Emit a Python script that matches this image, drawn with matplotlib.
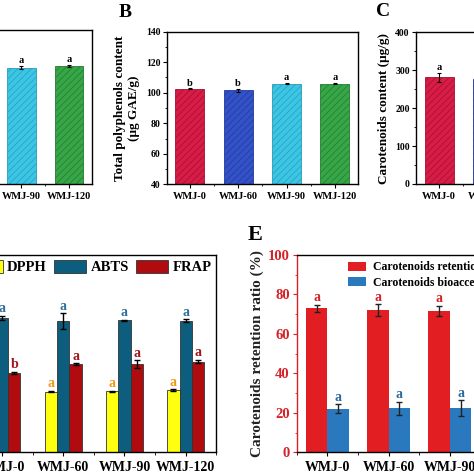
import numpy as np
import matplotlib
matplotlib.use("Agg")
from matplotlib import pyplot as plt
from matplotlib.ticker import FixedLocator, MultipleLocator
from matplotlib.patches import Patch

plt.rcParams['font.family'] = 'Liberation Serif'
plt.rcParams['font.weight'] = 'bold'
plt.rcParams['axes.labelweight'] = 'bold'
plt.rcParams['hatch.linewidth'] = 0.5
plt.rcParams['axes.linewidth'] = 1.0

samples = ['WMJ-0', 'WMJ-60', 'WMJ-90', 'WMJ-120']

# panel A (only the right part is visible)
a_vals = [29.6, 29.9, 30.2, 30.6]
a_err = [0.4, 0.4, 0.4, 0.3]
a_letters = ['a', 'a', 'a', 'a']

# panel B total polyphenols
b_vals = [102.6, 101.5, 105.9, 105.9]
b_err = [0.3, 1.0, 0.5, 0.5]
b_letters = ['b', 'b', 'a', 'a']

# panel C carotenoids
c_vals = [282, 276, 279, 281]
c_err = [12, 10, 10, 10]
c_letters = ['a', 'a', 'a', 'a']

# panel D antioxidant activity
dpph = [31.0, 30.7, 31.0, 31.4]
dpph_err = [0.3, 0.3, 0.3, 0.5]
abts = [68.2, 66.5, 67.0, 66.8]
abts_err = [1.0, 4.0, 0.3, 0.6]
frap = [40.3, 44.6, 44.6, 46.0]
frap_err = [0.5, 0.5, 2.0, 0.8]
frap_letters = ['b', 'a', 'a', 'a']

# panel E retention / bioaccessibility
e_samples = ['WMJ-0', 'WMJ-60', 'WMJ-90', 'WMJ-120']
retention = [72.9, 72.0, 71.7, 72.0]
retention_err = [1.7, 3.0, 2.7, 2.5]
bioacc = [22.0, 22.3, 22.3, 22.5]
bioacc_err = [2.3, 3.3, 4.0, 3.0]

top_colors = ['#d81c46', '#3452c8', '#3cc6e6', '#36a646']
top_edges = ['#a01030', '#22389a', '#2a9ab8', '#237a30']

W = 474.0
fig = plt.figure(figsize=(4.74, 4.74), dpi=100)


def box(left, top, width, height):
    return [left / W, 1 - (top + height) / W, width / W, height / W]


def style_top(ax, ymin, ymax, ystep):
    x = np.arange(4)
    ax.set_xlim(-0.48, 3.48)
    ax.set_ylim(ymin, ymax)
    ax.set_xticks(x)
    ax.set_xticklabels(samples, fontsize=7.5)
    ax.xaxis.set_minor_locator(FixedLocator(np.arange(-0.5, 4, 1)))
    ax.yaxis.set_major_locator(MultipleLocator(ystep))
    ax.yaxis.set_minor_locator(MultipleLocator(ystep / 2))
    ax.tick_params(axis='x', which='major', direction='out', length=3, width=0.8, labelsize=7.5, pad=2.5)
    ax.tick_params(axis='y', which='major', direction='out', length=3, width=0.8, labelsize=7, pad=1.5)
    ax.tick_params(axis='both', which='minor', direction='out', length=1.5, width=0.6)


def top_bars(ax, vals, err, letters):
    x = np.arange(4)
    ax.bar(x, vals, width=0.6, color=top_colors, edgecolor=top_edges, linewidth=0.6, hatch='/////')
    ax.errorbar(x, vals, yerr=err, fmt='none', ecolor='black', elinewidth=0.8, capsize=1.5, capthick=0.8)
    for xi, v, e, t in zip(x, vals, err, letters):
        ax.annotate(t, (xi, v + e), xytext=(0, 0.5), textcoords='offset points',
                    ha='center', va='bottom', fontsize=7.5, fontweight='bold')


# A
axA = fig.add_axes(box(92 - 3.96 * 47.7, 30, 3.96 * 47.7, 154))
top_bars(axA, a_vals, a_err, a_letters)
style_top(axA, 0, 40, 10)

# B
axB = fig.add_axes(box(166.7, 31.7, 191.3, 152.6))
top_bars(axB, b_vals, b_err, b_letters)
style_top(axB, 40, 140, 20)
axB.set_ylabel('Total polyphenols content\n(\u03bcg GAE/g)', fontsize=9.5, labelpad=4, linespacing=1.25)

# C
axC = fig.add_axes(box(416, 32.3, 191, 151.7))
top_bars(axC, c_vals, c_err, c_letters)
style_top(axC, 0, 400, 100)
axC.set_ylabel('Carotenoids content (\u03bcg/g)', fontsize=9.5, labelpad=4)

# D
axD = fig.add_axes(box(2.1 - 0.5 * 61.2, 255, 4 * 61.2, 197.3))
x = np.arange(4)
wd = 0.2
d_series = [(dpph, dpph_err, '#ffff10', '#ee9a1a', 'DPPH', -wd),
            (abts, abts_err, '#0d5e7e', '#2f6f9c', 'ABTS', 0),
            (frap, frap_err, '#b00c10', '#a0141a', 'FRAP', wd)]
for vals, err, col, lcol, name, off in d_series:
    axD.bar(x + off, vals, width=wd, color=col, edgecolor='#333333', linewidth=0.6, label=name)
    axD.errorbar(x + off, vals, yerr=err, fmt='none', ecolor='black', elinewidth=1, capsize=2.5, capthick=1)
    lets = frap_letters if name == 'FRAP' else ['a'] * 4
    for xi, v, e, t in zip(x + off, vals, err, lets):
        axD.annotate(t, (xi, v + e), xytext=(0, 0.5), textcoords='offset points',
                     ha='center', va='bottom', fontsize=10, fontweight='bold', color=lcol)
axD.set_xlim(-0.5, 3.5)
axD.set_ylim(0, 100)
axD.set_xticks(x)
axD.set_xticklabels(samples, fontsize=10)
axD.xaxis.set_minor_locator(FixedLocator(np.arange(-0.5, 4, 1)))
axD.tick_params(axis='x', which='major', direction='out', length=3, width=0.8, labelsize=10, pad=3)
axD.tick_params(axis='x', which='minor', direction='out', length=2, width=0.6)
axD.set_yticks([])
axD.legend(handles=[Patch(facecolor=c, edgecolor='#333333', linewidth=0.6) for _, _, c, _, _, _ in d_series],
           labels=['DPPH', 'ABTS', 'FRAP'], ncol=3, loc='upper center', bbox_to_anchor=(0.488, 0.975),
           frameon=False, fontsize=10.5, handlelength=2.2, handleheight=0.95, handletextpad=0.3,
           columnspacing=0.5, borderpad=0, borderaxespad=0)

# E
axE = fig.add_axes(box(296.7, 255, 4 * 61.3, 197.3))
we = 0.35
axE.bar(x - we / 2, retention, width=we, color='#e21e22', label='Carotenoids retention ratio')
axE.bar(x + we / 2, bioacc, width=we, color='#2a78be', label='Carotenoids bioaccessibility')
axE.errorbar(x - we / 2, retention, yerr=retention_err, fmt='none', ecolor='#222222', elinewidth=1, capsize=2.5, capthick=1)
axE.errorbar(x + we / 2, bioacc, yerr=bioacc_err, fmt='none', ecolor='#222222', elinewidth=1, capsize=2.5, capthick=1)
for xi, v, e in zip(x - we / 2, retention, retention_err):
    axE.annotate('a', (xi, v + e), xytext=(0, 0.5), textcoords='offset points',
                 ha='center', va='bottom', fontsize=10, fontweight='bold', color='#d42228')
for xi, v, e in zip(x + we / 2, bioacc, bioacc_err):
    axE.annotate('a', (xi, v + e), xytext=(0, 0.5), textcoords='offset points',
                 ha='center', va='bottom', fontsize=10, fontweight='bold', color='#2c6a9e')
axE.set_xlim(-0.5, 3.5)
axE.set_ylim(0, 100)
axE.set_xticks(x)
axE.set_xticklabels(e_samples, fontsize=10)
axE.xaxis.set_minor_locator(FixedLocator(np.arange(-0.5, 4, 1)))
axE.yaxis.set_major_locator(MultipleLocator(20))
axE.yaxis.set_minor_locator(MultipleLocator(10))
axE.tick_params(axis='x', which='major', direction='out', length=3, width=0.8, labelsize=10, pad=3)
axE.tick_params(axis='x', which='minor', direction='out', length=2, width=0.6)
axE.tick_params(axis='y', which='major', direction='out', length=3, width=0.8, labelsize=10.5, pad=2,
                colors='#d42228')
axE.tick_params(axis='y', which='minor', direction='out', length=1.5, width=0.6, colors='#d42228')
axE.spines['left'].set_color('#d42228')
axE.set_ylabel('Carotenoids retention ratio (%)', fontsize=11, labelpad=3, color='#222222')
axE.legend(loc='upper left', bbox_to_anchor=(0.21, 0.968), frameon=False, fontsize=8.5,
           handlelength=1.5, handleheight=0.75, handletextpad=0.6, labelspacing=0.3,
           borderpad=0, borderaxespad=0)

for ax in [axA, axB, axC, axD, axE]:
    for lab in ax.get_xticklabels() + ax.get_yticklabels():
        lab.set_fontweight('bold')

fig.text(125 / W, 1 - 12.5 / W, 'B', fontsize=14, fontweight='bold', ha='center', va='center')
fig.text(383.5 / W, 1 - 11.5 / W, 'C', fontsize=14, fontweight='bold', ha='center', va='center')
fig.text(255 / W, 1 - 234.5 / W, 'E', fontsize=16, fontweight='bold', ha='center', va='center')

fig.savefig('out.png', dpi=100)
